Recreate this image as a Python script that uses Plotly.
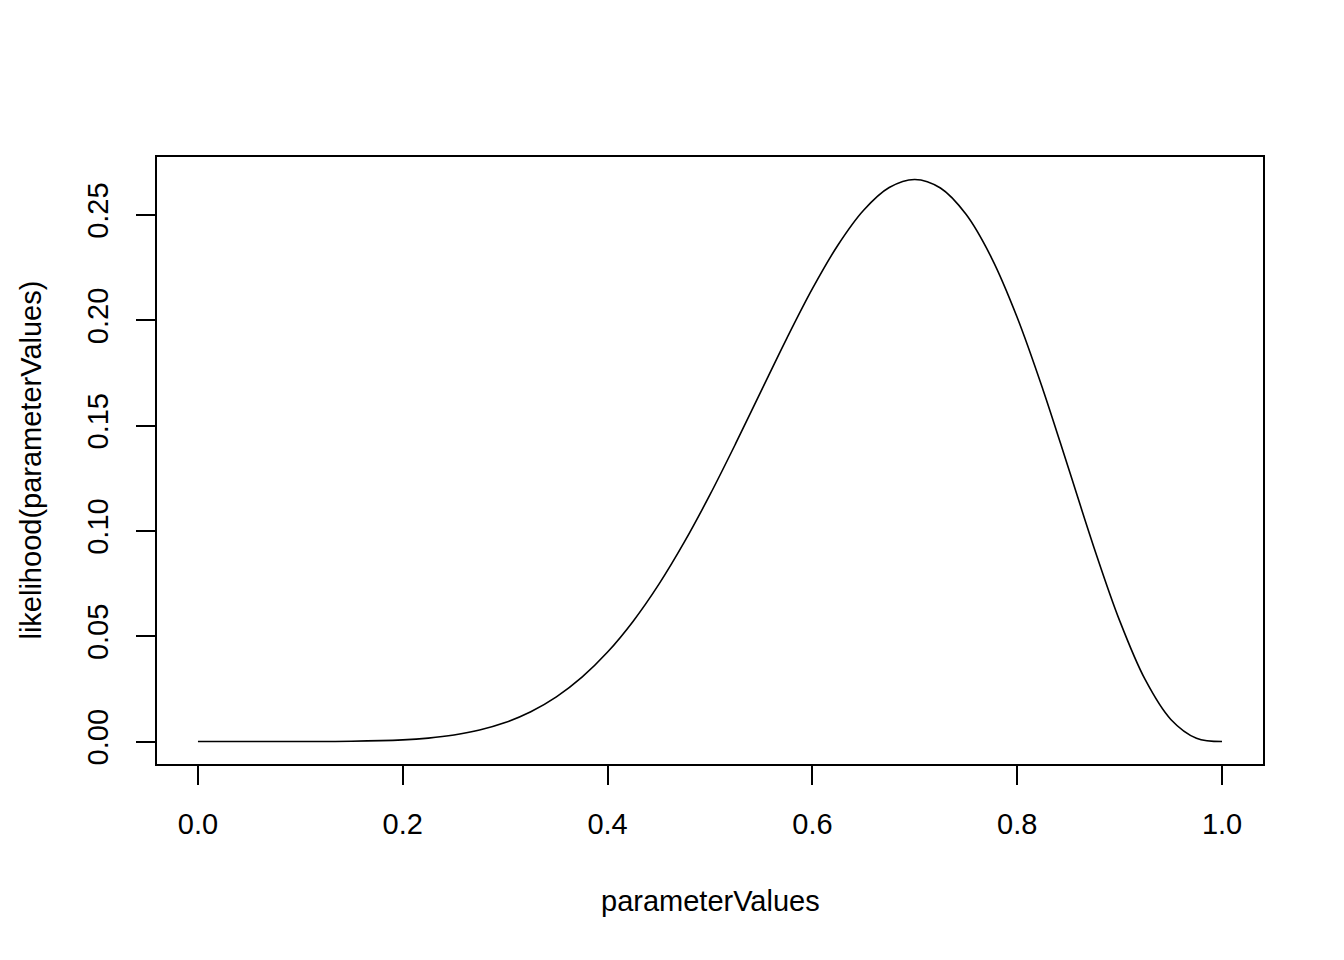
import plotly.graph_objects as go

# values
parameterValues = [0.0, 0.05, 0.1, 0.15, 0.2, 0.225, 0.25, 0.275, 0.3, 0.325,
                   0.35, 0.375, 0.4, 0.425, 0.45, 0.475, 0.5, 0.525, 0.55,
                   0.575, 0.6, 0.625, 0.65, 0.675, 0.7, 0.725, 0.75, 0.775,
                   0.8, 0.825, 0.85, 0.875, 0.9, 0.925, 0.95, 0.975, 1.0]
likelihood = [0.0, 0.0000001, 0.0000087, 0.000126, 0.000786, 0.00163, 0.00309,
              0.00544, 0.00900, 0.01413, 0.02120, 0.03055, 0.04247, 0.05714,
              0.07460, 0.09474, 0.11719, 0.14138, 0.16648, 0.19143, 0.21499,
              0.23574, 0.25222, 0.26300, 0.26683, 0.26276, 0.25028, 0.22954,
              0.20133, 0.16729, 0.12983, 0.09204, 0.05740, 0.02933, 0.01048,
              0.00157, 0.0]

x_ticks = [0.0, 0.2, 0.4, 0.6, 0.8, 1.0]
x_ticklabels = ["0.0", "0.2", "0.4", "0.6", "0.8", "1.0"]
y_ticks = [0.0, 0.05, 0.10, 0.15, 0.20, 0.25]
y_ticklabels = ["0.00", "0.05", "0.10", "0.15", "0.20", "0.25"]

font = dict(family="Liberation Sans, Arial, sans-serif", size=29, color="black")

fig = go.Figure(go.Scatter(
    x=parameterValues, y=likelihood, mode="lines",
    line=dict(color="black", width=1.6, shape="spline", smoothing=1.0),
    hoverinfo="skip"))

axis_common = dict(showgrid=False, zeroline=False, showline=True, mirror=True,
                   linecolor="black", linewidth=1.6, ticks="outside",
                   ticklen=19, tickwidth=1.6, tickcolor="black",
                   tickfont=font)

fig.update_xaxes(range=[-0.04, 1.04], tickvals=x_ticks, ticktext=x_ticklabels,
                 ticklabelstandoff=14, **axis_common)
fig.update_yaxes(range=[-0.01067, 0.2775], tickvals=y_ticks,
                 ticktext=y_ticklabels, tickangle=-90, ticklabelstandoff=17,
                 **axis_common)

fig.add_annotation(text="parameterValues", xref="paper", yref="paper",
                   x=0.5, y=-0.2257, xanchor="center", yanchor="middle",
                   showarrow=False, font=font)
fig.add_annotation(text="likelihood(parameterValues)", xref="paper",
                   yref="paper", x=-0.1148, y=0.5, xanchor="center",
                   yanchor="middle", textangle=-90, showarrow=False, font=font)

# page puts the figure 8px in from the top-left corner, so margins allow for it
fig.update_layout(width=1344, height=960, showlegend=False,
                  paper_bgcolor="white", plot_bgcolor="white",
                  margin=dict(l=149, r=89, t=149, b=204))

fig.write_html("out.html")
